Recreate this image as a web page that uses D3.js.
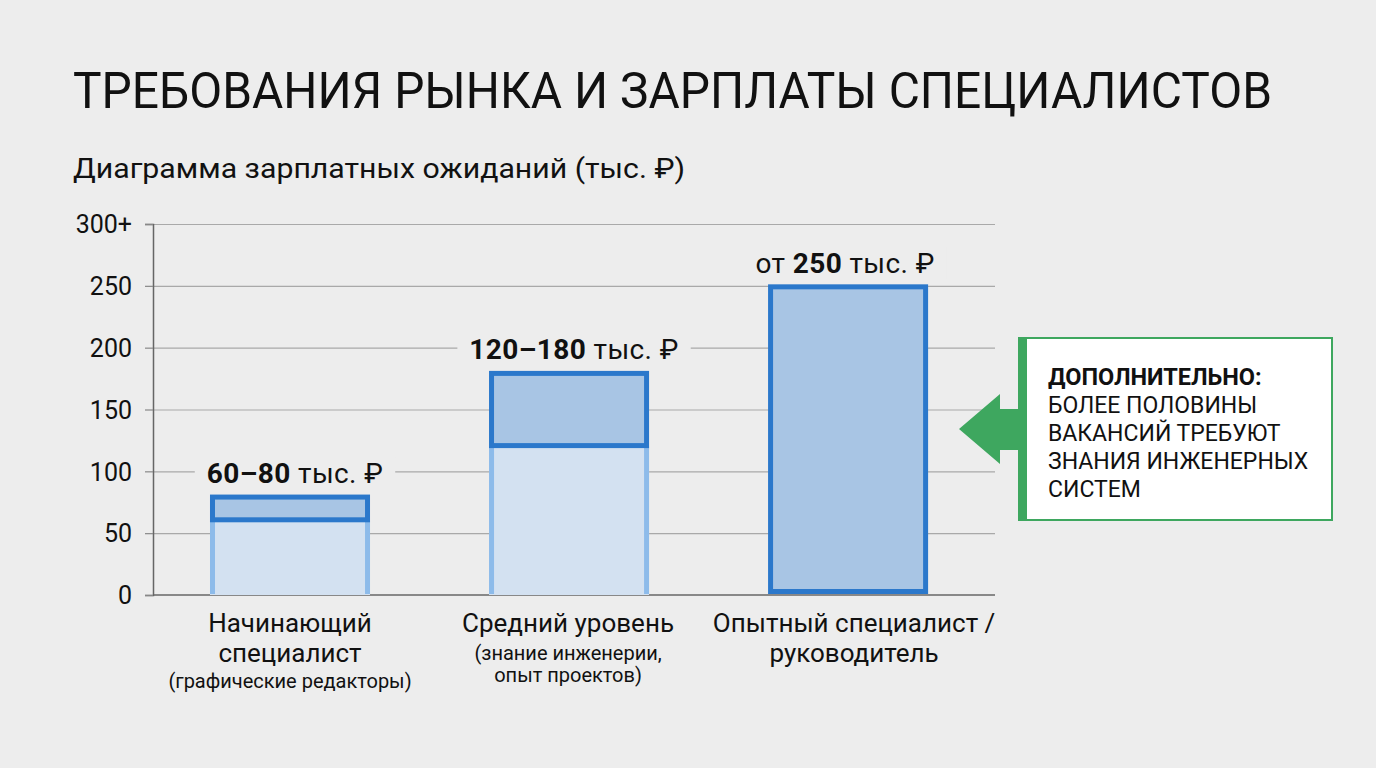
<!DOCTYPE html>
<html><head><meta charset="utf-8">
<script src="https://cdn.jsdelivr.net/npm/d3@7"></script>
<style>
html,body{margin:0;padding:0;background:#ededed;}
svg{display:block;}
text{font-family:Roboto,"Noto Sans","DejaVu Sans",sans-serif;fill:#111;}
</style></head>
<body>
<svg id="chart" width="1376" height="768"></svg>
<script>
const categories = ["Начинающий", "Средний уровень", "Опытный специалист /"];
const categoryLines = [
  ["Начинающий", "специалист"],
  ["Средний уровень"],
  ["Опытный специалист /", "руководитель"]
];
const categoryNotes = [
  ["(графические редакторы)"],
  ["(знание инженерии,", "опыт проектов)"],
  []
];
const lowValues = [60, 120, 0];
const highValues = [80, 180, 250];
const labelPrefix = ["", "", "от "];
const labelBold = ["60–80", "120–180", "250"];
const labelSuffix = " тыс. ₽";
const tickValues = [0, 50, 100, 150, 200, 250, 300];
const tickLabels = ["0", "50", "100", "150", "200", "250", "300+"];
const titleText = "ТРЕБОВАНИЯ РЫНКА И ЗАРПЛАТЫ СПЕЦИАЛИСТОВ";
const subtitleText = "Диаграмма зарплатных ожиданий (тыс. ₽)";
const noteHead = "ДОПОЛНИТЕЛЬНО:";
const noteLines = ["БОЛЕЕ ПОЛОВИНЫ", "ВАКАНСИЙ ТРЕБУЮТ", "ЗНАНИЯ ИНЖЕНЕРНЫХ", "СИСТЕМ"];

const svg = d3.select("#chart");
const pageBg = "#ededed";
svg.append("rect").attr("width",1376).attr("height",768).attr("fill",pageBg);

// titles
svg.append("text").attr("x",73).attr("y",108).attr("font-size",50).attr("font-weight",400)
  .attr("textLength",1199).attr("lengthAdjust","spacingAndGlyphs").text(titleText);
svg.append("text").attr("x",73).attr("y",178).attr("font-size",27)
  .attr("textLength",612).attr("lengthAdjust","spacingAndGlyphs").text(subtitleText);

const x = d3.scaleBand().domain(categories).range([153, 995])
  .paddingInner(0.4265).paddingOuter(0.222).align(0.46);
const y = d3.scaleLinear().domain([0, 300]).range([595, 224]);

// grid
svg.append("g").selectAll("line").data(tickValues.filter(v => v > 0)).join("line")
  .attr("x1",153).attr("x2",995).attr("y1",d=>y(d)+0.5).attr("y2",d=>y(d)+0.5)
  .attr("stroke","#a9a9a9").attr("stroke-width",1.2);

// y axis
const yAxis = d3.axisLeft(y).tickValues(tickValues).tickSize(8).tickPadding(13)
  .tickFormat((d,i) => tickLabels[i]);
const ya = svg.append("g").attr("transform","translate(153,0)").call(yAxis);
ya.select(".domain").attr("stroke","#666").attr("stroke-width",1.5);
ya.selectAll(".tick line").attr("stroke","#888").attr("stroke-width",1.2);
ya.selectAll(".tick text").attr("font-size",25).attr("fill","#111")
  .attr("font-family","Roboto,'Noto Sans',sans-serif").attr("dy","0.35em");

// x baseline
svg.append("line").attr("x1",153).attr("x2",995).attr("y1",y(0)).attr("y2",y(0))
  .attr("stroke","#666").attr("stroke-width",1.5);

const sw = 5;
const bars = svg.append("g");
categories.forEach((c, i) => {
  const x0 = x(c), w = x.bandwidth();
  const lo = lowValues[i], hi = highValues[i];
  if (lo > 0) {
    bars.append("rect").attr("x",x0).attr("y",y(lo)).attr("width",w).attr("height",y(0)-y(lo))
      .attr("fill","#d3e1f1");
    bars.append("rect").attr("x",x0).attr("y",y(lo)).attr("width",sw).attr("height",y(0)-y(lo)-1)
      .attr("fill","#8dbbea");
    bars.append("rect").attr("x",x0+w-sw).attr("y",y(lo)).attr("width",sw).attr("height",y(0)-y(lo)-1)
      .attr("fill","#8dbbea");
  }
  const top = y(hi) - 1.5;
  const bot = lo > 0 ? y(lo) + 1.5 : y(0) - 1;
  bars.append("rect").attr("x",x0+sw/2).attr("y",top+sw/2).attr("width",w-sw).attr("height",bot-top-sw)
    .attr("fill","#a8c5e4").attr("stroke","#2b78cb").attr("stroke-width",sw);
});

// value labels
const labels = svg.append("g");
categories.forEach((c, i) => {
  const cx = x(c) + x.bandwidth()/2 + (i===2 ? -3 : 5);
  const ly = y(highValues[i]) - 13;
  const t = labels.append("text").attr("x",cx).attr("y",ly).attr("text-anchor","middle")
    .attr("font-size",28).attr("letter-spacing",0.4);
  if (labelPrefix[i]) t.append("tspan").text(labelPrefix[i]);
  t.append("tspan").attr("font-weight",700).text(labelBold[i]);
  t.append("tspan").text(labelSuffix);
  const bb = t.node().getBBox();
  labels.insert("rect", "text").attr("x",bb.x-12).attr("y",bb.y).attr("width",bb.width+24).attr("height",bb.height)
    .attr("fill",pageBg);
});

// x labels
const xl = svg.append("g");
categories.forEach((c, i) => {
  const cx = x(c) + x.bandwidth()/2 + (i===0 ? 0 : i===1 ? -1 : 6);
  let yy = 632;
  categoryLines[i].forEach(line => {
    xl.append("text").attr("x",cx).attr("y",yy).attr("text-anchor","middle").attr("font-size",26).attr("fill","#1a1a1a").text(line);
    yy += 30;
  });
  let ny = i === 0 ? 688 : 660;
  categoryNotes[i].forEach(line => {
    xl.append("text").attr("x",cx).attr("y",ny).attr("text-anchor","middle").attr("font-size",20).attr("fill","#1a1a1a").text(line);
    ny += 22;
  });
});

// callout
const green = "#3ea75f";
const call = svg.append("g");
call.append("path").attr("d","M959,429 L1000,394 L1000,409 L1022,409 L1022,450 L1000,450 L1000,464 Z").attr("fill",green);
call.append("rect").attr("x",1019).attr("y",338).attr("width",313).attr("height",182)
  .attr("fill","#ffffff").attr("stroke",green).attr("stroke-width",2);
call.append("rect").attr("x",1018).attr("y",337).attr("width",9).attr("height",184).attr("fill",green);
call.append("text").attr("x",1048).attr("y",385).attr("font-size",23.5).attr("font-weight",700).text(noteHead);
noteLines.forEach((l, k) => {
  call.append("text").attr("x",1048).attr("y",413 + k*28).attr("font-size",23).text(l);
});
</script>
</body></html>
